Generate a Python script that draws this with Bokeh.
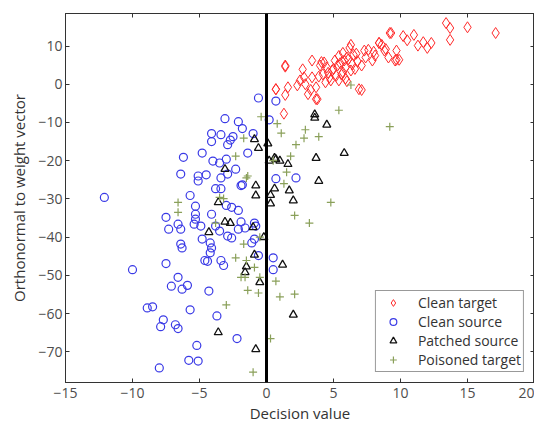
from bokeh.plotting import figure
from bokeh.models import Span, LinearAxis, FixedTicker, Legend, LegendItem, Range1d
from bokeh.embed import file_html
from bokeh.resources import INLINE

# ---- data ----
clean_target_x = [1.4, 0.7, 1.6, 1.4, 2.3, 2.7, 2.8, 2.9, 3.1, 3.4, 3.4, 3.7, 3.8, 4.0, 4.2, 4.3,
                  4.5, 4.7, 4.9, 5.1, 5.3, 5.4, 5.7, 5.8, 5.9, 6.0, 6.2, 6.3, 6.3, 6.4, 6.5, 5.7,
                  6.9, 7.1, 7.3, 7.6, 7.9, 8.1, 8.4, 8.6, 8.8, 9.1, 9.2, 9.6, 9.7, 13.4, 13.7, 13.7,
                  15.0, 17.1, 12.0, 11.3, 11.0, 10.2, 9.3, 9.7, 8.4, 7.1, 3.7, 1.3, 1.4, 0.7, 9.9,
                  4.6, 5.0, 5.5, 6.1, 4.8, 5.2, 3.9, 4.4, 6.6, 6.8, 5.6, 3.3, 2.5, 4.1, 5.9, 6.7, 7.4,
                  8.0, 8.9, 10.5, 11.7, 12.3, 6.0, 5.4]
clean_target_y = [4.6, -1.3, -0.8, -2.8, -0.3, 3.9, 1.8, 0.0, -2.6, 6.2, 1.8, -0.8, -3.9, 4.9, 2.6, 5.7,
                  4.4, 1.8, 3.6, 6.2, 4.9, 1.0, 8.2, 6.2, 4.4, 7.0, 9.5, 10.3, 3.6, 5.2, 7.7, 3.1,
                  -1.3, 4.9, 8.8, 9.0, 6.2, 7.5, 10.8, 10.3, 8.8, 7.0, 13.4, 6.2, 8.8, 16.0, 14.7, 11.6,
                  14.9, 13.4, 9.5, 10.1, 12.9, 12.6, 13.4, 6.4, 10.8, -1.5, -3.9, -7.7, 4.9, -1.3, 6.4,
                  3.0, 4.0, 5.5, 6.5, 1.0, 2.2, 2.0, 0.5, 4.0, 6.0, 2.5, -1.5, 1.0, 5.8, 1.5, 8.0, 7.0,
                  8.5, 9.2, 11.5, 11.0, 10.8, 0.8, 7.4]

clean_source_x = [-12.1, -0.6, 0.7, 0.2, -3.1, -2.1, -4.1, -3.4, -2.5, -1.8, -1.0, -4.1, -2.9, -2.7,
                  -4.8, -6.2, -1.4, -4.0, -3.5, -3.0, -2.3, -6.4, -5.1, -4.5, -2.9, -3.4, -1.8, -5.1,
                  -3.8, -3.4, -5.7, -5.3, -3.0, -2.6, -1.9, -2.1, -7.5, -5.3, -5.3, -4.1, -6.6, -7.3,
                  -6.4, -4.9, -5.4, -3.8, -3.5, -2.9, -4.8, -4.2, -4.1, -4.2, -6.4, -6.3, -2.6, -2.1,
                  -1.6, -0.8, -1.9, -0.9, -1.1, -0.9, -0.6, -4.6, -4.4, -3.4, -3.2, -7.5, -10.0, -6.6,
                  -7.1, -6.3, -5.9, -4.3, -8.9, -8.5, -5.7, -3.7, -7.7, -7.9, -6.8, -6.6, -2.2, -5.2,
                  -5.8, -5.1, -8.0, 0.7, 2.2, 0.5, 0.5]
clean_source_y = [-29.6, -3.6, -4.4, -9.3, -9.0, -9.8, -12.9, -13.2, -13.7, -11.6, -12.9, -15.0, -15.8, -14.6,
                  -18.0, -19.1, -18.0, -20.1, -20.6, -19.6, -22.2, -23.5, -24.0, -23.7, -23.5, -24.5, -26.3, -25.3,
                  -27.3, -27.3, -29.1, -31.9, -31.7, -32.2, -26.5, -33.0, -34.8, -34.0, -35.3, -34.0, -36.6, -37.9,
                  -37.9, -37.1, -36.6, -37.1, -38.4, -39.7, -40.5, -41.5, -42.8, -44.1, -41.8, -42.8, -40.2, -37.9,
                  -37.6, -37.1, -36.0, -36.3, -41.5, -40.5, -44.8, -46.1, -46.3, -46.1, -47.4, -46.9, -48.5, -50.5,
                  -52.8, -53.6, -52.6, -54.1, -58.5, -58.2, -59.0, -60.6, -61.6, -63.4, -62.9, -63.9, -66.5, -68.3,
                  -72.2, -72.4, -74.2, -24.7, -24.5, -45.4, -48.5]

patched_source_x = [3.6, 4.5, 0.6, 1.6, 3.7, 5.8, 3.9, 2.0, 0.3, 0.6, 1.7, -3.1, -0.9, -0.6, -0.8, -0.8,
                    -3.6, -3.1, -2.7, -4.3, -1.0, -0.9, -1.5, -1.6, -0.5, -3.6, -0.8, 1.2, 2.0, 0.1,
                    0.3, -0.2, 0.2, 1.0, 0.7, 3.6]
patched_source_y = [-7.9, -10.6, -19.3, -20.9, -19.3, -18.0, -25.3, -30.4, -31.2, -27.3, -27.8, -22.2, -14.4, -16.7, -29.1, -26.5,
                    -30.9, -36.0, -36.3, -38.7, -37.4, -44.6, -47.7, -49.2, -51.8, -64.9, -69.3, -47.2, -60.3, -15.5,
                    -29.0, -40.0, -20.0, -20.0, -19.6, -8.8]

poisoned_target_x = [5.4, 9.2, 0.8, 1.1, 2.9, 2.8, 3.9, 2.2, 1.8, 4.8, 6.3, 2.1, 3.2, 0.7, 1.0, 2.1, 0.3,
                     -0.4, -1.7, -2.3, -1.5, -1.4, -3.5, -6.6, -6.6, -3.2, -3.8, -0.5, -2.3, -0.9, -0.5,
                     -1.6, -1.7, -1.5, -1.9, -1.4, -0.6, -3.0, -1.0, 0.5, 1.5, 1.3]
poisoned_target_y = [-6.8, -11.1, -10.3, -12.8, -11.9, -14.1, -13.7, -15.8, -18.8, -30.9, -0.2, -34.3, -36.3, -51.5, -55.6, -54.9, -66.5,
                     -8.5, -14.1, -18.8, -24.5, -24.0, -29.6, -30.9, -33.5, -29.9, -36.3, -40.0, -45.4, -47.9, -50.5,
                     -50.5, -41.8, -46.1, -50.5, -53.9, -54.6, -57.7, -75.3, -20.0, -23.0, -26.0]

x_ticks = [-15, -10, -5, 0, 5, 10, 15, 20]
y_ticks = [-70, -60, -50, -40, -30, -20, -10, 0, 10]

FONT = "Open Sans"
TICK_COLOR = "#4d4d4d"
RED = "#ff2a2a"

p = figure(width=534, height=425, output_backend="svg", toolbar_location=None,
           x_range=Range1d(-15, 20), y_range=Range1d(-78, 18.5),
           min_border_left=65, min_border_right=0, min_border_top=13, min_border_bottom=30)
p.background_fill_color = "white"
p.border_fill_color = "white"
p.outline_line_color = "#333333"
p.outline_line_width = 1
p.grid.visible = False

def style_axis(ax, ticks, show_labels=True):
    ax.ticker = FixedTicker(ticks=ticks)
    ax.major_tick_in = 4
    ax.major_tick_out = 0
    ax.minor_tick_in = 0
    ax.minor_tick_out = 0
    ax.axis_line_color = "#333333"
    ax.major_tick_line_color = "#333333"
    ax.major_label_text_font = FONT
    ax.major_label_text_font_size = "14px"
    ax.major_label_text_color = TICK_COLOR
    ax.axis_label_text_font = FONT
    ax.axis_label_text_font_size = "15px"
    ax.axis_label_text_font_style = "normal"
    ax.axis_label_text_color = "#333333"
    if not show_labels:
        ax.major_label_overrides = {t: "" for t in ticks}
        ax.major_label_standoff = 0

p.xaxis.axis_label = "Decision value"
p.yaxis.axis_label = "Orthonormal to weight vector"
style_axis(p.xaxis[0], x_ticks)
style_axis(p.yaxis[0], y_ticks)
p.yaxis.axis_label_standoff = 6
p.xaxis.axis_label_standoff = 2
p.xaxis.major_label_standoff = 5
p.yaxis.major_label_standoff = 3

top = LinearAxis()
right = LinearAxis()
p.add_layout(top, "above")
p.add_layout(right, "right")
style_axis(top, x_ticks, show_labels=False)
style_axis(right, y_ticks, show_labels=False)

p.add_layout(Span(location=0, dimension="height", line_color="black", line_width=3))

r_ct = p.scatter(clean_target_x, clean_target_y, marker="diamond", size=11,
                 line_color=RED, fill_color=None, line_width=1)
r_cs = p.scatter(clean_source_x, clean_source_y, marker="circle", size=8,
                 line_color="#3a3ae6", fill_color=None, line_width=1.2)
r_ps = p.scatter(patched_source_x, patched_source_y, marker="triangle", size=8,
                 line_color="#111111", fill_color=None, line_width=1.3)
r_pt = p.scatter(poisoned_target_x, poisoned_target_y, marker="cross", size=8,
                 line_color="#8aa05a", line_width=1.2)

legend = Legend(items=[
    LegendItem(label="Clean target", renderers=[r_ct]),
    LegendItem(label="Clean source", renderers=[r_cs]),
    LegendItem(label="Patched source", renderers=[r_ps]),
    LegendItem(label="Poisoned target", renderers=[r_pt]),
], location="bottom_right")
legend.label_text_font = FONT
legend.label_text_font_size = "14px"
legend.label_text_color = "#333333"
legend.border_line_color = "#333333"
legend.border_line_width = 1
legend.background_fill_color = "white"
legend.background_fill_alpha = 1
legend.margin = 10
legend.padding = 2
legend.spacing = 0
legend.label_height = 17
legend.glyph_height = 17
legend.glyph_width = 30
legend.label_standoff = 10
p.add_layout(legend)

open("out.html", "w").write(file_html(p, INLINE))
